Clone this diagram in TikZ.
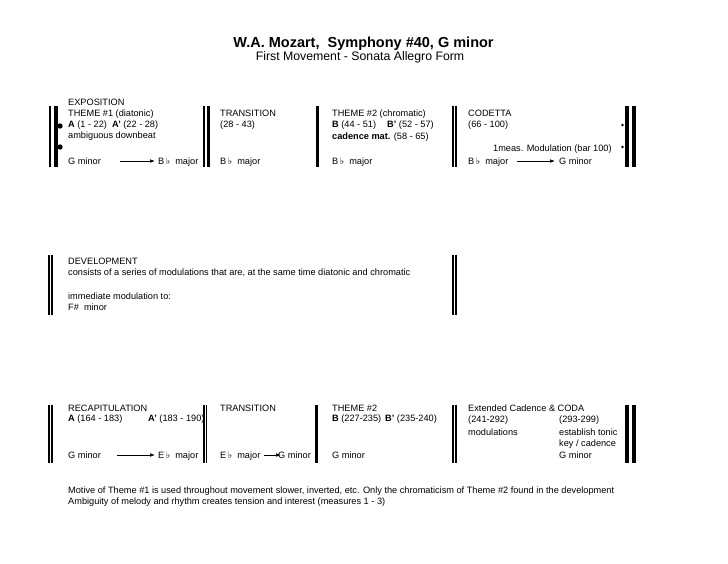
\documentclass[tikz,border=0pt]{standalone}
\usepackage{fontspec}
\setmainfont{Liberation Sans}
\newfontfamily\symfont{DejaVu Sans}
\usetikzlibrary{arrows.meta}
\newcommand{\flt}{\,{\symfont\char"266D}}
\newcommand{\bodyfont}{\fontsize{9.2}{11}\selectfont}
\tikzset{
  txt/.style={anchor=base west, inner sep=0pt, font=\bodyfont},
  ttl/.style={anchor=base, inner sep=0pt, font=\fontsize{14.5}{16}\selectfont\bfseries},
  subttl/.style={anchor=base, inner sep=0pt, font=\fontsize{12.3}{14}\selectfont},
  arr/.style={-{Latex[length=5pt,width=3.6pt]}, line width=0.6pt},
}
\begin{document}
\begin{tikzpicture}[x=1pt,y=-1pt]
\useasboundingbox[fill=white] (0,0) rectangle (728,563);
% title
\node[ttl] (title) at (363.5,47.3) {W.A. Mozart,\ \ Symphony \#40, G minor};
\node[subttl] (subtitle) at (360,60) {First Movement - Sonata Allegro Form};

% ---------- EXPOSITION ----------
\fill (49,106) rectangle (51,167);
\fill (54,106) rectangle (58,167);
\fill (60,126) circle (2.7);
\fill (60,147) circle (2.7);
\fill (203.3,106) rectangle (205.3,167);
\fill (207,106) rectangle (209.5,167);
\fill (315.7,106) rectangle (318.5,167);
\fill (451.8,106) rectangle (453.8,167);
\fill (455,106) rectangle (457,167);
\fill (625,106) rectangle (629,167);
\fill (632,106) rectangle (636,167);
\fill (622.5,125) circle (1.4);
\fill (622.5,147) circle (1.4);

\node[txt] (e1) at (68,105) {EXPOSITION};
\node[txt] (e2) at (68,116.7) {THEME \#1 (diatonic)};
\node[txt] (e3) at (68,127.5) {\textbf{A} (1 - 22)\ \ \textbf{A'} (22 - 28)};
\node[txt] (e4) at (68,138.7) {ambiguous downbeat};
\node[txt] (e5) at (68,164) {G minor};
\node[txt] (e6) at (158,164) {B\flt\ \ major};
\coordinate (ea1) at (120,161);
\coordinate (ea2) at (155,161);
\draw[arr] (ea1) -- (ea2);
\node[txt] (t1) at (220,116.7) {TRANSITION};
\node[txt] (t2) at (220,127.5) {(28 - 43)};
\node[txt] (t3) at (220,164) {B\flt\ \ major};
\node[txt] (c1) at (332,116.7) {THEME \#2 (chromatic)};
\node[txt] (c2) at (332,127.5) {\textbf{B} (44 - 51)};
\node[txt] (c3) at (387,127.5) {\textbf{B'} (52 - 57)};
\node[txt] (c4) at (332,139) {\textbf{cadence mat.} (58 - 65)};
\node[txt] (c5) at (332,164) {B\flt\ \ major};
\node[txt] (d1) at (468,116.7) {CODETTA};
\node[txt] (d2) at (468,127.5) {(66 - 100)};
\node[txt] (d3) at (493,151) {1meas. Modulation (bar 100)};
\node[txt] (d4) at (468,164) {B\flt\ \ major};
\node[txt] (d5) at (559,164) {G minor};
\coordinate (da1) at (517,161);
\coordinate (da2) at (555,161);
\draw[arr] (da1) -- (da2);

% ---------- DEVELOPMENT ----------
\fill (48.3,255) rectangle (50.2,315);
\fill (51,255) rectangle (52.6,315);
\fill (452.3,255) rectangle (454.2,315);
\fill (455,255) rectangle (456.8,315);
\node[txt] (v1) at (68,264.3) {DEVELOPMENT};
\node[txt] (v2) at (68,275.7) {consists of a series of modulations that are, at the same time diatonic and chromatic};
\node[txt] (v3) at (68,299) {immediate modulation to:};
\node[txt] (v4) at (68,310.7) {F\#\ \ minor};

% ---------- RECAPITULATION ----------
\fill (48.3,404.5) rectangle (50.2,462.5);
\fill (51,404.5) rectangle (52.6,462.5);
\fill (203.3,404.5) rectangle (205,462.5);
\fill (205.8,404.5) rectangle (207,462.5);
\fill (315,404.5) rectangle (318.3,462.5);
\fill (451.8,404.5) rectangle (453.8,462.5);
\fill (455,404.5) rectangle (457,462.5);
\fill (625,404.5) rectangle (629,462.5);
\fill (631.5,404.5) rectangle (635.5,462.5);

\node[txt] (r1) at (68,411) {RECAPITULATION};
\node[txt] (r2) at (68,421.5) {\textbf{A} (164 - 183)};
\node[txt] (r3) at (148,421.5) {\textbf{A'} (183 - 190)};
\node[txt] (r4) at (68,458) {G minor};
\node[txt] (r5) at (158,458) {E\flt\ \ major};
\coordinate (ra1) at (117,455);
\coordinate (ra2) at (155,455);
\draw[arr] (ra1) -- (ra2);
\node[txt] (s1) at (220,411) {TRANSITION};
\node[txt] (s2) at (220,458) {E\flt\ \ major};
\node[txt] (s3) at (278,458) {G minor};
\draw[arr] ([xshift=3pt]s2.east |- 0,455) -- ([xshift=3pt]s3.west |- 0,455);
\node[txt] (u1) at (332,411) {THEME \#2};
\node[txt] (u2) at (332,421.5) {\textbf{B} (227-235)};
\node[txt] (u3) at (385,421.5) {\textbf{B'} (235-240)};
\node[txt] (u4) at (332,458) {G minor};
\node[txt] (w1) at (468,411.5) {Extended Cadence \& CODA};
\node[txt] (w2) at (468,422) {(241-292)};
\node[txt] (w3) at (559,422) {(293-299)};
\node[txt] (w4) at (468,435) {modulations};
\node[txt] (w5) at (559,435) {establish tonic};
\node[txt] (w6) at (559,446.5) {key / cadence};
\node[txt] (w7) at (559,458.5) {G minor};

% ---------- footer ----------
\node[txt] (f1) at (68,493) {Motive of Theme \#1 is used throughout movement slower, inverted, etc. Only the chromaticism of Theme \#2 found in the development};
\node[txt] (f2) at (68,504.5) {Ambiguity of melody and rhythm creates tension and interest (measures 1 - 3)};
\end{tikzpicture}
\end{document}
